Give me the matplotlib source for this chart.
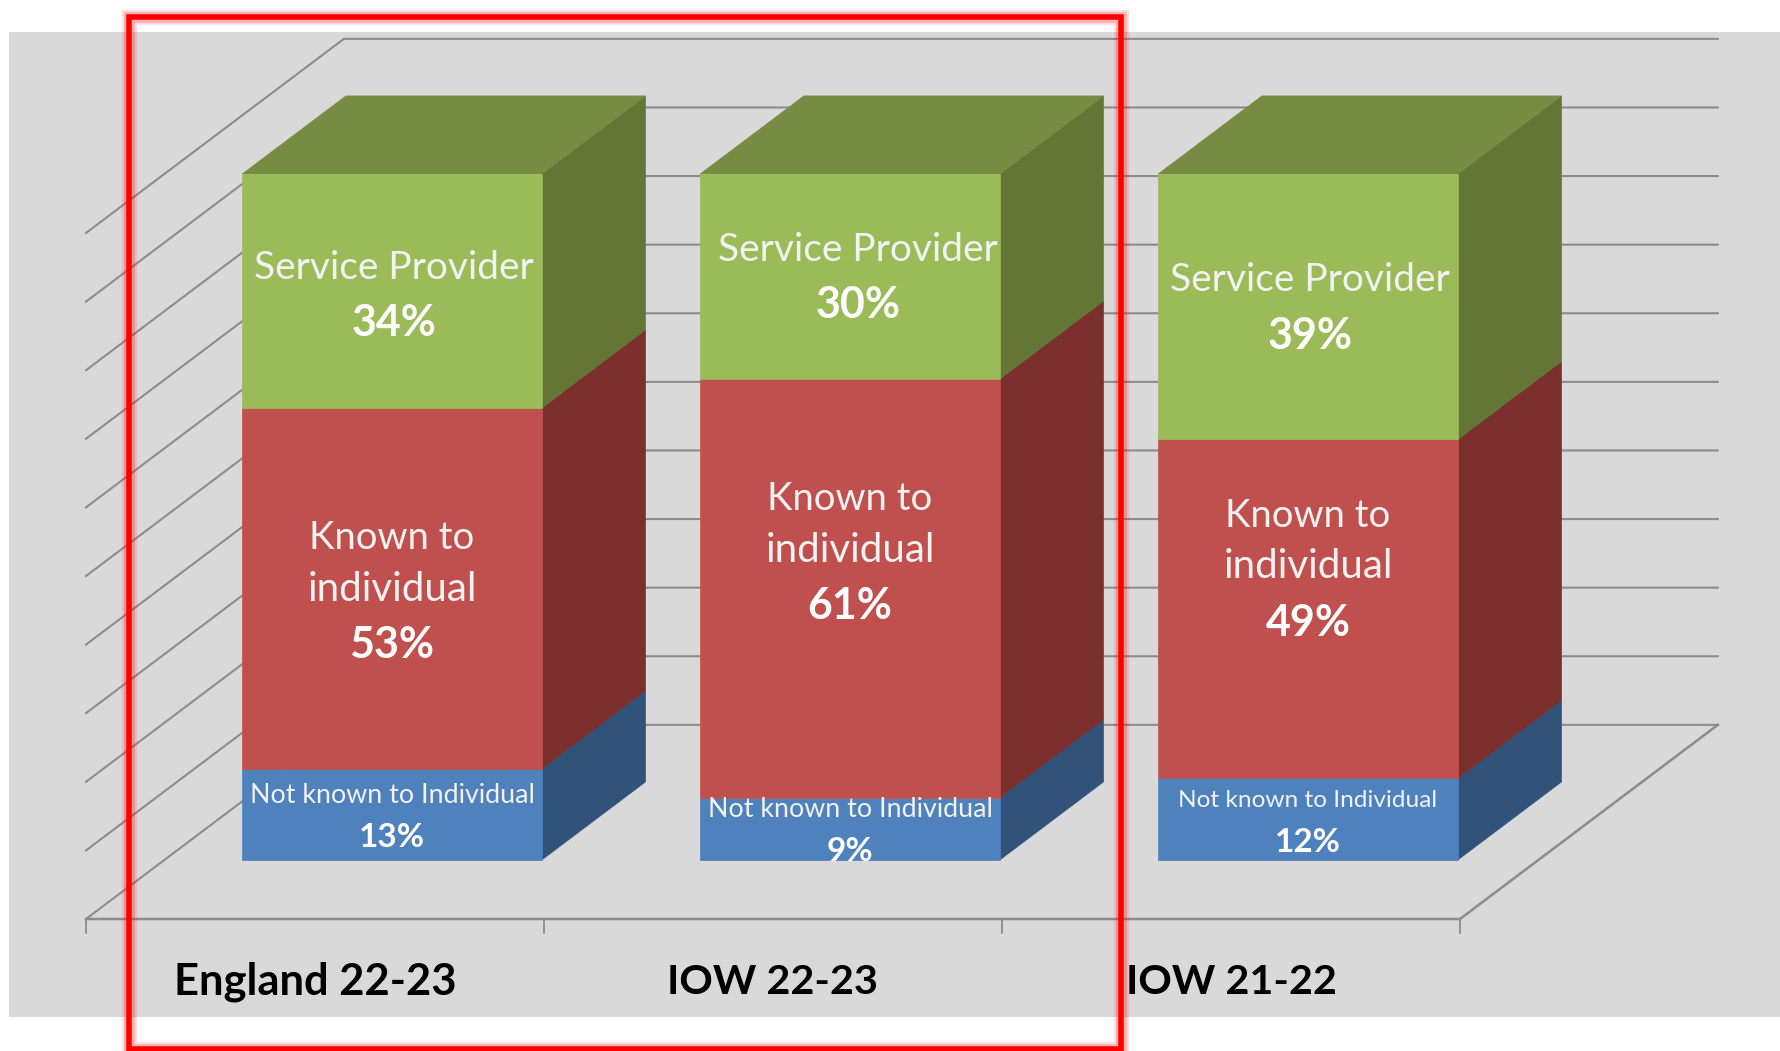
import matplotlib
matplotlib.use("Agg")
import matplotlib.pyplot as plt
from matplotlib.patches import Polygon, Rectangle
from matplotlib.transforms import Affine2D

categories = ["England 22-23", "IOW 22-23", "IOW 21-22"]
# labels show them rounded
not_known = [13.3, 9.1, 11.9]
known = [52.6, 61.0, 49.4]
provider = [34.1, 29.9, 38.7]
grid_values = [0, 10, 20, 30, 40, 50, 60, 70, 80, 90, 100]

W, H = 1781, 1051
plt.rcParams["font.family"] = ["Lato", "DejaVu Sans"]

# oblique projection: x in categories, y in percent, d = depth 0..1
DX, DY = 0.563, 28.3
BAR_L, BAR_R = 0.170, 0.824
D0, D1 = 0.304, 0.706

GREY = "#8c8c8c"
FRONT = ["#4f81bd", "#c0504d", "#9bbb59"]
SIDE = ["#315279", "#7b302e", "#647636"]
TOP = "#778c43"


def P(x, y, d=0.0):
    return (x + d * DX, y + d * DY)


def face(ax, pts, color, z):
    p = Polygon(pts, closed=True, fc=color, ec=color, lw=0.5, zorder=z)
    ax.add_patch(p)
    return p


fig = plt.figure(figsize=(W / 100, H / 100), dpi=100)
ax = fig.add_axes([0, 0, 1, 1])
ax.set_xlim(-86 / 458, (W - 86) / 458)
ax.set_ylim((919 - H) / 6.86, 919 / 6.86)
ax.axis("off")

# pixel coordinates for the picture background and the box drawn over it
px = Affine2D().scale(1 / W, -1 / H).translate(0, 1) + fig.transFigure
ax.add_patch(Rectangle((9, 32), W - 9, 985, fc="#d9d9d9", ec="none", transform=px, zorder=0))

# walls
n = len(categories)
for v in grid_values:
    ax.plot(*zip(P(0, v, 0), P(0, v, 1), P(n, v, 1)), color=GREY, lw=1.5, zorder=1)
ax.plot(*zip(P(0, 0), P(n, 0), P(n, 0, 1)), color=GREY, lw=1.8, zorder=1)
for i in range(n + 1):
    ax.plot([i, i], [0, -2], color=GREY, lw=1.3, zorder=1)

# nudges of the labels, as placed by hand in the source chart
provider_dx = [0.005, 0.017, 0.005]
provider_dy = [-0.17, 0.33, 0.33]
known_dy = [0.0, 5.7, 6.3]
not_known_size = [19.3, 19.3, 17.6]
category_size = [31.3, 29.8, 29.8]

for i in range(n):
    segs = [not_known[i], known[i], provider[i]]
    base = 0
    l, r = i + BAR_L, i + BAR_R
    mid = (P(l, 0, D0)[0] + P(r, 0, D0)[0]) / 2
    for j, v in enumerate(segs):
        top = base + v
        front = face(ax, [P(l, base, D0), P(r, base, D0), P(r, top, D0), P(l, top, D0)], FRONT[j], 3)
        face(ax, [P(r, base, D0), P(r, base, D1), P(r, top, D1), P(r, top, D0)], SIDE[j], 2)
        yc = P(l, (base + top) / 2, D0)[1]
        if j == 0:
            lines = [("Not known to Individual", 2.75, not_known_size[i], "normal"), (f"{v:.0f}%", -3.35, 24, "bold")]
            x = mid
        elif j == 1:
            yc += known_dy[i]
            lines = [("Known to", 7.3, 27.5, "normal"), ("individual", -0.17, 29, "normal"), (f"{v:.0f}%", -8.3, 31, "bold")]
            x = mid
        else:
            yc += provider_dy[i]
            lines = [("Service Provider", 3.56, 28, "normal"), (f"{v:.0f}%", -4.55, 31, "bold")]
            x = mid + provider_dx[i]
        for s, dy, size, weight in lines:
            t = ax.text(x, yc + dy, s, color="white" if weight == "bold" else "#f2f2f2", fontsize=size,
                        fontweight=weight, ha="center", va="center", zorder=5)
            t.set_clip_path(front)
        base = top
    face(ax, [P(l, base, D0), P(r, base, D0), P(r, base, D1), P(l, base, D1)], TOP, 2)
    ax.text(i + 0.5, -9.2, categories[i], fontsize=category_size[i], fontweight="bold", color="black",
            ha="center", va="center", zorder=5)

# red highlight box with its soft glow
for lw, alpha in [(11, 0.12), (8, 0.2), (4, 1.0)]:
    ax.add_patch(Rectangle((129, 17), 992, 1032, fc="none", ec="#ff0000", lw=lw, alpha=alpha,
                           transform=px, zorder=6, joinstyle="miter", clip_on=False))

fig.savefig("out.png", dpi=100)
